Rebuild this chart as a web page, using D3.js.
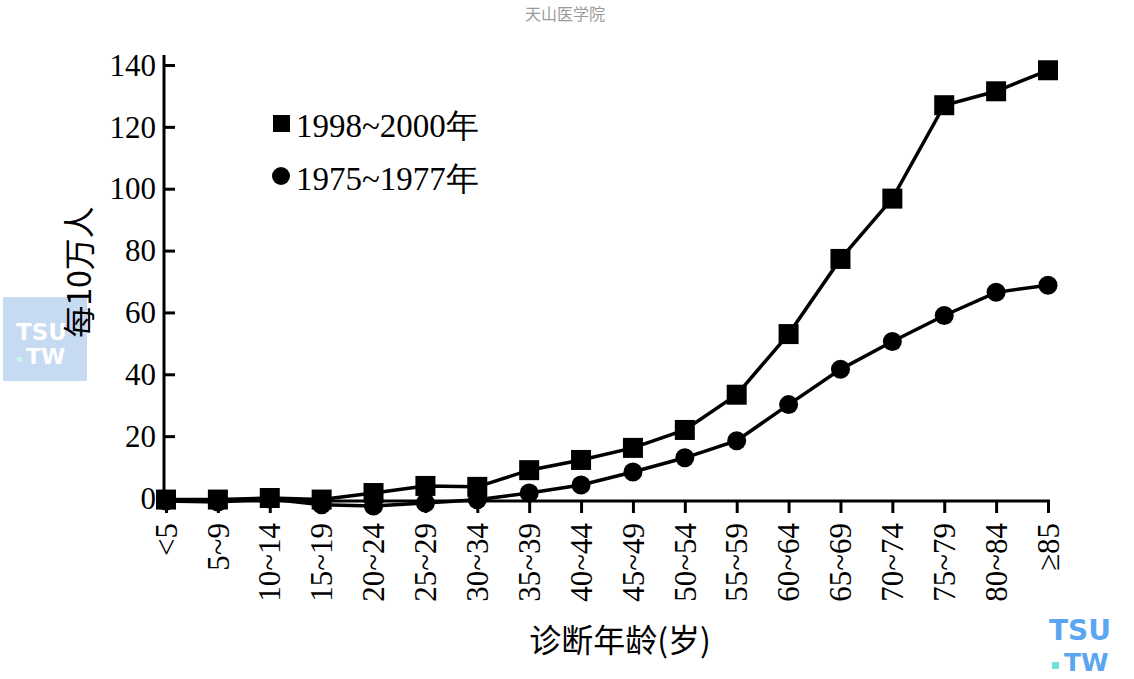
<!DOCTYPE html>
<html><head><meta charset="utf-8">
<script src="https://cdn.jsdelivr.net/npm/d3@7"></script>
<style>body{margin:0;background:#fff;}svg{display:block;}</style>
</head><body>
<script>
const categories = ["<5","5~9","10~14","15~19","20~24","25~29","30~34","35~39","40~44","45~49","50~54","55~59","60~64","65~69","70~74","75~79","80~84","≥85"];
const series1998 = [-0.5,-0.5,0,-0.5,1.6,3.9,3.6,9,12.3,16.2,22,33.4,53,77.3,96.8,127,131.5,138.3];
const series1975 = [-1,-1.3,-0.3,-2.2,-2.6,-1.6,-0.6,1.6,4.2,8.4,13,18.5,30.2,41.6,50.6,59,66.5,68.8];
const yTicks = [0,20,40,60,80,100,120,140];
const legendLabels = ["1998~2000年","1975~1977年"];

const W=1134,H=679;
const svg=d3.select("body").append("svg").attr("width",W).attr("height",H);
const x=d3.scalePoint().domain(categories).range([166,1048]);
const y=d3.scaleLinear().domain([0,140]).range([498,65]);
const serif="'Liberation Serif','Times New Roman',serif";

// watermark title
svg.append("text").attr("x",565).attr("y",20).attr("text-anchor","middle")
  .attr("font-family","'Noto Sans CJK SC',sans-serif").attr("font-size",16).attr("fill","#9a9a9a").text("天山医学院");

// left logo
const lg=svg.append("g");
lg.append("rect").attr("x",3).attr("y",297).attr("width",84).attr("height",84).attr("fill","#c6daf2");
lg.append("text").attr("x",16).attr("y",340).attr("font-family","'DejaVu Sans',sans-serif").attr("font-weight","bold").attr("font-size",23).attr("fill","#fff").text("TSU");
lg.append("rect").attr("x",17).attr("y",357).attr("width",5).attr("height",5).attr("fill","#c8f4ee");
lg.append("text").attr("x",26).attr("y",364).attr("font-family","'DejaVu Sans',sans-serif").attr("font-weight","bold").attr("font-size",22).attr("fill","#fff").text("TW");
// right logo
const rg=svg.append("g");
rg.append("text").attr("x",1049).attr("y",640).attr("font-family","'DejaVu Sans',sans-serif").attr("font-weight","bold").attr("font-size",28).attr("fill","#5ba6f0").text("TSU");
rg.append("rect").attr("x",1052).attr("y",662).attr("width",7).attr("height",7).attr("fill","#6fe0da");
rg.append("text").attr("x",1064).attr("y",671).attr("font-family","'DejaVu Sans',sans-serif").attr("font-weight","bold").attr("font-size",25).attr("fill","#5ba6f0").text("TW");

// y axis
const ya=svg.append("g").attr("transform","translate(164,0)")
  .call(d3.axisLeft(y).tickValues(yTicks).tickSizeInner(-11).tickSizeOuter(0).tickPadding(8));
ya.select(".domain").attr("d","M0,55V506").attr("stroke","#000").attr("stroke-width",3);
ya.selectAll(".tick line").attr("stroke","#000").attr("stroke-width",3);
ya.selectAll(".tick text").attr("font-family",serif).attr("font-size",31).attr("fill","#000").attr("dy","0.33em");

// x axis
const xa=svg.append("g").attr("transform","translate(0,501)")
  .call(d3.axisBottom(x).tickSizeInner(12).tickSizeOuter(0).tickPadding(0));
xa.select(".domain").attr("d","M163,0H1050").attr("stroke","#000").attr("stroke-width",3);
xa.selectAll(".tick line").attr("stroke","#000").attr("stroke-width",3);
xa.selectAll(".tick text").attr("font-family",serif).attr("font-size",31).attr("fill","#000")
  .attr("text-anchor","end").attr("transform","translate(0,22) rotate(-90)").attr("x",0).attr("y",0).attr("dy","0.33em");

// axis titles
svg.append("text").attr("transform","translate(80,272) rotate(-90)").attr("text-anchor","middle")
  .attr("font-family","'Noto Sans CJK SC',sans-serif").attr("font-size",32).attr("fill","#000")
  .attr("dy","0.35em").text("每10万人");
svg.append("text").attr("x",620).attr("y",652).attr("text-anchor","middle")
  .attr("font-family","'Noto Sans CJK SC',sans-serif").attr("font-size",32).attr("fill","#000").text("诊断年龄(岁)");

// lines
const line=d3.line().x((d,i)=>x(categories[i])).y(d=>y(d));
svg.append("path").datum(series1975).attr("d",line).attr("fill","none").attr("stroke","#000").attr("stroke-width",3.5);
svg.append("path").datum(series1998).attr("d",line).attr("fill","none").attr("stroke","#000").attr("stroke-width",3.5);

svg.append("g").selectAll("rect").data(series1998).join("rect")
  .attr("x",(d,i)=>x(categories[i])-10).attr("y",d=>y(d)-10).attr("width",20).attr("height",20).attr("fill","#000");
svg.append("g").selectAll("circle").data(series1975).join("circle")
  .attr("cx",(d,i)=>x(categories[i])).attr("cy",d=>y(d)).attr("r",9.5).attr("fill","#000");

// legend
const leg=svg.append("g");
leg.append("rect").attr("x",273).attr("y",115).attr("width",17).attr("height",17).attr("fill","#000");
leg.append("circle").attr("cx",281).attr("cy",176).attr("r",9).attr("fill","#000");
legendLabels.forEach((t,i)=>{
  leg.append("text").attr("x",296).attr("y",137+i*53).attr("font-family",serif).attr("font-size",33).attr("fill","#000").text(t);
});
</script>
</body></html>
